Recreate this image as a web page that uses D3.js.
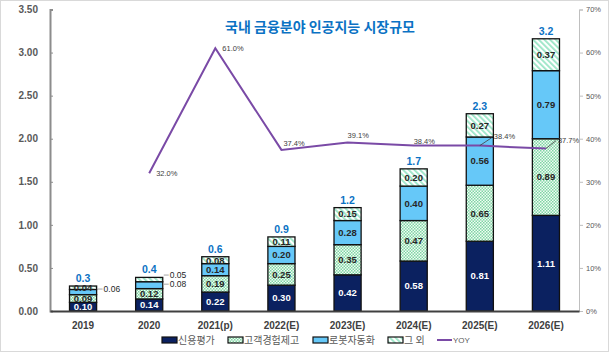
<!DOCTYPE html>
<html>
<head>
<meta charset="utf-8">
<script src="https://cdn.jsdelivr.net/npm/d3@7"></script>
<style>
  body { margin: 0; background: #fff; }
  text { font-family: "Liberation Sans", Arial, "Noto Sans CJK KR", sans-serif; }
  .kr { font-family: "Noto Sans CJK KR", "Liberation Sans", sans-serif; }
</style>
</head>
<body>
<div id="chart"></div>
<script>
// Data
let years = ["2019", "2020", "2021(p)", "2022(E)", "2023(E)", "2024(E)", "2025(E)", "2026(E)"];
let seriesNames = ["신용평가", "고객경험제고", "로봇자동화", "그 외"];
let credit = [0.10, 0.14, 0.22, 0.30, 0.42, 0.58, 0.81, 1.11];
let customer = [0.09, 0.12, 0.19, 0.25, 0.35, 0.47, 0.65, 0.89];
let robot = [0.06, 0.08, 0.14, 0.20, 0.28, 0.40, 0.56, 0.79];
let others = [0.04, 0.05, 0.08, 0.11, 0.15, 0.20, 0.27, 0.37];
let totals = ["0.3", "0.4", "0.6", "0.9", "1.2", "1.7", "2.3", "3.2"];
let yoy = [null, 32.0, 61.0, 37.4, 39.1, 38.4, 38.4, 37.7];
let leftTicks = [0, 0.5, 1.0, 1.5, 2.0, 2.5, 3.0, 3.5];
let rightTicks = [0, 10, 20, 30, 40, 50, 60, 70];

let W = 609, H = 352;
let margins = {"left": 50, "right": 30, "top": 9.5, "bottom": 41};

let svg = d3.select("#chart")
            .append("svg")
            .attr("width", W)
            .attr("height", H);

svg.append("rect")
   .attr("x", 0.5).attr("y", 0.5)
   .attr("width", W - 1).attr("height", H - 1)
   .attr("fill", "#fff")
   .attr("stroke", "#d9d9d9");

// Patterns
let defs = svg.append("defs");
let dots = defs.append("pattern")
               .attr("id", "dots")
               .attr("patternUnits", "userSpaceOnUse")
               .attr("width", 3).attr("height", 3);
dots.append("rect").attr("width", 3).attr("height", 3).attr("fill", "#f2fbf5");
dots.append("rect").attr("width", 1.5).attr("height", 1.5).attr("fill", "#7ed6a4");
dots.append("rect").attr("x", 1.5).attr("y", 1.5).attr("width", 1.5).attr("height", 1.5).attr("fill", "#7ed6a4");

let stripes = defs.append("pattern")
                  .attr("id", "stripes")
                  .attr("patternUnits", "userSpaceOnUse")
                  .attr("width", 4).attr("height", 4)
                  .attr("patternTransform", "rotate(-45)");
stripes.append("rect").attr("width", 4).attr("height", 4).attr("fill", "#fff");
stripes.append("rect").attr("width", 1.8).attr("height", 4).attr("fill", "#9ae6c6");

let fills = ["#0b2160", "url(#dots)", "#66c8f8", "url(#stripes)"];
let labelColors = ["#fff", "#262626", "#262626", "#262626"];

// Scales
let x = d3.scaleBand()
          .domain(years)
          .range([margins.left, W - margins.right])
          .paddingInner(0.59)
          .paddingOuter(0.295);

let yL = d3.scaleLinear()
           .domain([0, 3.5])
           .range([H - margins.bottom, margins.top]);

let yR = d3.scaleLinear()
           .domain([0, 70])
           .range([H - margins.bottom, margins.top]);

// Stack
let table = years.map((yr, i) => ({
  year: yr, s0: credit[i], s1: customer[i], s2: robot[i], s3: others[i]
}));
let stacked = d3.stack().keys(["s0", "s1", "s2", "s3"])(table);

// Title
svg.append("text")
   .attr("class", "kr")
   .attr("x", 320)
   .attr("y", 32)
   .attr("text-anchor", "middle")
   .attr("font-size", "14px")
   .attr("font-weight", "bold")
   .attr("fill", "#0b72c4")
   .text("국내 금융분야 인공지능 시장규모");

// Axes
let axL = svg.append("g")
             .attr("transform", `translate(${margins.left},0)`)
             .call(d3.axisLeft(yL).tickValues(leftTicks).tickFormat(d3.format(".2f")).tickSize(-3).tickPadding(12));
axL.select(".domain").attr("stroke", "#8c8c8c").attr("stroke-width", 2);
axL.selectAll(".tick line").attr("stroke", "#8c8c8c");
axL.selectAll("text").attr("font-size", "10px").attr("font-weight", "bold").attr("fill", "#595959")
   .style("font-family", "'Liberation Sans', Arial, sans-serif");

let axR = svg.append("g")
             .attr("transform", `translate(${W - margins.right},0)`)
             .call(d3.axisRight(yR).tickValues(rightTicks).tickFormat(d => d + "%").tickSize(4).tickPadding(3));
axR.select(".domain").attr("stroke", "#bfbfbf");
axR.selectAll(".tick line").attr("stroke", "#bfbfbf");
axR.selectAll("text").attr("font-size", "7.5px").attr("fill", "#595959")
   .style("font-family", "'Liberation Sans', Arial, sans-serif");

// Bars
let groups = svg.append("g")
                .selectAll("g")
                .data(stacked)
                .enter()
                .append("g")
                .attr("fill", (d, i) => fills[i]);

groups.selectAll("rect")
      .data(d => d)
      .enter()
      .append("rect")
      .attr("x", d => x(d.data.year))
      .attr("y", d => yL(d[1]))
      .attr("width", x.bandwidth())
      .attr("height", d => yL(d[0]) - yL(d[1]))
      .attr("stroke", "#111")
      .attr("stroke-width", 1.3);

// Bottom axis
let axB = svg.append("g")
             .attr("transform", `translate(0,${H - margins.bottom})`)
             .call(d3.axisBottom(x).tickSize(0).tickPadding(11));
axB.select(".domain").attr("stroke", "#404040").attr("stroke-width", 2);
axB.selectAll("text").attr("font-size", "10px").attr("font-weight", "bold").attr("fill", "#404040")
   .style("font-family", "'Liberation Sans', Arial, sans-serif");

// Segment labels (some small ones go outside)
let outside = {"0-2": -3, "1-2": -1, "1-3": -4.5};
stacked.forEach((layer, si) => {
  layer.forEach((d, i) => {
    let cy = (yL(d[0]) + yL(d[1])) / 2;
    let val = d[1] - d[0];
    let key = i + "-" + si;
    if (key in outside) {
      let ly = cy + outside[key];
      let x0 = x(d.data.year) + x.bandwidth();
      svg.append("line")
         .attr("x1", x0 + 1).attr("x2", x0 + 6)
         .attr("y1", ly).attr("y2", ly)
         .attr("stroke", "#a6a6a6");
      svg.append("text")
         .attr("x", x0 + 7).attr("y", ly).attr("dy", "0.35em")
         .attr("font-size", "8.5px").attr("fill", "#262626")
         .text(val.toFixed(2));
    } else {
      svg.append("text")
         .attr("x", x(d.data.year) + x.bandwidth() / 2)
         .attr("y", cy).attr("dy", "0.35em")
         .attr("text-anchor", "middle")
         .attr("font-size", "9.5px").attr("font-weight", "bold")
         .attr("fill", labelColors[si])
         .text(val.toFixed(2));
    }
  });
});

// Totals
svg.append("g")
   .selectAll("text")
   .data(stacked[3])
   .enter()
   .append("text")
   .attr("x", d => x(d.data.year) + x.bandwidth() / 2)
   .attr("y", d => yL(d[1]) - 4)
   .attr("text-anchor", "middle")
   .attr("font-size", "10.5px").attr("font-weight", "bold")
   .attr("fill", "#0b72c4")
   .text((d, i) => totals[i]);

// YOY line
let cx = yr => x(yr) + x.bandwidth() / 2;
let line = d3.line()
             .defined(d => d[1] !== null)
             .x(d => cx(d[0]))
             .y(d => yR(d[1]));
svg.append("path")
   .datum(years.map((yr, i) => [yr, yoy[i]]))
   .attr("d", line)
   .attr("fill", "none")
   .attr("stroke", "#7a4aa6")
   .attr("stroke-width", 2);

// YOY labels: [dx, dy, leader]
let yoyPos = [null, [7, 3, 0], [7, 3, 0], [2, -4, 0], [0, -5, 0], [0, -2, 0], [14, -7, 1], [12, -6, 1]];
yoy.forEach((v, i) => {
  if (v === null) return;
  let px = cx(years[i]), py = yR(v), p = yoyPos[i];
  if (p[2]) {
    svg.append("line")
       .attr("x1", px).attr("y1", py)
       .attr("x2", px + p[0] - 2).attr("y2", py - 8)
       .attr("stroke", "#404040").attr("stroke-width", 0.8);
  }
  svg.append("text")
     .attr("x", px + p[0]).attr("y", py + p[1])
     .attr("font-size", "7.5px").attr("fill", "#404040")
     .text(v.toFixed(1) + "%");
});

// Legend
let legX = [162, 228, 313, 388];
let legend = svg.append("g");
seriesNames.forEach((name, i) => {
  legend.append("rect")
        .attr("x", legX[i]).attr("y", 337)
        .attr("width", 15).attr("height", 6)
        .attr("fill", fills[i])
        .attr("stroke", "#111").attr("stroke-width", 1.2);
  legend.append("text")
        .attr("class", "kr")
        .attr("x", legX[i] + 16).attr("y", 340).attr("dy", "0.35em")
        .attr("font-size", "10px").attr("fill", "#595959")
        .text(name);
});
legend.append("line")
      .attr("x1", 437).attr("x2", 452)
      .attr("y1", 340).attr("y2", 340)
      .attr("stroke", "#7a4aa6").attr("stroke-width", 2);
legend.append("text")
      .attr("x", 453).attr("y", 340).attr("dy", "0.35em")
      .attr("font-size", "8px").attr("fill", "#595959")
      .text("YOY");
</script>
</body>
</html>
